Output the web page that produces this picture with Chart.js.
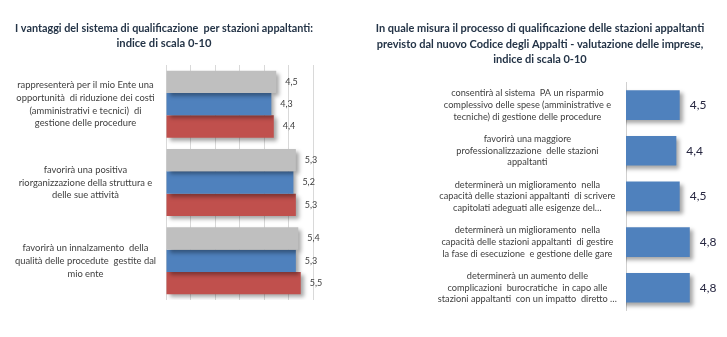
<!DOCTYPE html>
<html>
<head>
<meta charset="utf-8">
<script src="https://cdn.jsdelivr.net/npm/chart.js@4.4.0/dist/chart.umd.min.js"></script>
<style>
  body { margin: 0; background: #fff; }
  .box { position: absolute; top: 0; height: 337px; }
  #left-box { left: 0; width: 330px; }
  #right-box { left: 360px; width: 367px; }
</style>
</head>
<body>
<div class="box" id="left-box"><canvas id="left-chart" width="330" height="337"></canvas></div>
<div class="box" id="right-box"><canvas id="right-chart" width="367" height="337"></canvas></div>
<script>
// dati grafico sinistro
const leftTitle = [
  "I vantaggi del sistema di qualificazione  per stazioni appaltanti:",
  "indice di scala 0-10",
];
const leftCategories = [
  ["rappresenterà per il mio Ente una", "opportunità  di riduzione dei costi", "(amministrativi e tecnici)  di", "gestione delle procedure"],
  ["favorirà una positiva", "riorganizzazione della struttura e", "delle sue attività"],
  ["favorirà un innalzamento  della", "qualità delle procedute  gestite dal", "mio ente"],
];
const leftGray = [4.5, 5.3, 5.4];
const leftBlue = [4.3, 5.2, 5.3];
const leftRed = [4.4, 5.3, 5.5];

// dati grafico destro
const rightTitle = [
  "In quale misura il processo di qualificazione delle stazioni appaltanti",
  "previsto dal nuovo Codice degli Appalti - valutazione delle imprese,",
  "indice di scala 0-10",
];
const rightCategories = [
  ["consentirà al sistema  PA un risparmio", "complessivo delle spese (amministrative e", "tecniche) di gestione delle procedure"],
  ["favorirà una maggiore", "professionalizzazione  delle stazioni", "appaltanti"],
  ["determinerà un miglioramento  nella", "capacità delle stazioni appaltanti  di scrivere", "capitolati adeguati alle esigenze del…"],
  ["determinerà un miglioramento  nella", "capacità delle stazioni appaltanti  di gestire", "la fase di esecuzione  e gestione delle gare"],
  ["determinerà un aumento delle", "complicazioni  burocratiche  in capo alle", "stazioni appaltanti  con un impatto  diretto …"],
];
const rightValues = [4.5, 4.4, 4.5, 4.8, 4.8];

const FONT = "Lato, 'Open Sans', sans-serif";

// ombra sotto le barre
const shadowPlugin = {
  id: "shadow",
  beforeDatasetsDraw(chart) {
    const ctx = chart.ctx;
    ctx.save();
    ctx.shadowColor = "rgba(0,0,0,0.35)";
    ctx.shadowBlur = 4;
    ctx.shadowOffsetX = 3;
    ctx.shadowOffsetY = 3;
  },
  afterDatasetsDraw(chart) {
    chart.ctx.restore();
  },
};

// etichette dei valori
const valueLabels = (size, color, gap) => ({
  id: "valueLabels",
  afterDatasetsDraw(chart) {
    const ctx = chart.ctx;
    ctx.save();
    ctx.font = size + "px " + FONT;
    ctx.fillStyle = color;
    ctx.textBaseline = "middle";
    ctx.textAlign = "left";
    chart.data.datasets.forEach((ds, i) => {
      chart.getDatasetMeta(i).data.forEach((bar, j) => {
        const txt = ds.data[j].toLocaleString("it-IT", { minimumFractionDigits: 1 });
        ctx.fillText(txt, bar.x + gap, bar.y);
      });
    });
    ctx.restore();
  },
});

new Chart(document.getElementById("left-chart"), {
  type: "bar",
  data: {
    labels: leftCategories,
    datasets: [
      { label: "Serie 1", data: leftGray, backgroundColor: "#BFBFBF" },
      { label: "Serie 2", data: leftBlue, backgroundColor: "#4F81BD" },
      { label: "Serie 3", data: leftRed, backgroundColor: "#C0504D" },
    ],
  },
  options: {
    indexAxis: "y",
    responsive: false,
    animation: false,
    categoryPercentage: 0.855,
    barPercentage: 1,
    layout: { padding: { left: 15, right: 17, top: 0, bottom: 37 } },
    scales: {
      x: {
        min: 0,
        max: 6,
        ticks: { display: false, stepSize: 1 },
        grid: { color: "#D9D9D9", drawTicks: false },
        border: { display: false },
      },
      y: {
        afterFit(scale) { scale.width = 151; },
        grid: { display: false, drawTicks: false },
        border: { display: false },
        ticks: {
          crossAlign: "center",
          padding: 10,
          color: "#404040",
          font: { family: FONT, size: 9.4, lineHeight: 1.36 },
        },
      },
    },
    plugins: {
      legend: { display: false },
      tooltip: { enabled: false },
      title: {
        display: true,
        text: leftTitle,
        color: "#243447",
        font: { family: FONT, size: 11.2, weight: "bold", lineHeight: 1.34 },
        padding: { top: 21, bottom: 14 },
      },
    },
  },
  plugins: [shadowPlugin, valueLabels(9, "#404040", 9)],
});

new Chart(document.getElementById("right-chart"), {
  type: "bar",
  data: {
    labels: rightCategories,
    datasets: [
      { label: "Valutazione", data: rightValues, backgroundColor: "#4F81BD" },
    ],
  },
  options: {
    indexAxis: "y",
    responsive: false,
    animation: false,
    categoryPercentage: 1,
    barPercentage: 0.65,
    layout: { padding: { left: 0, right: 7, top: 0, bottom: 14 } },
    scales: {
      x: {
        min: 2.9,
        max: 5.7,
        ticks: { display: false },
        grid: { display: false, drawTicks: false },
        border: { display: false },
      },
      y: {
        afterFit(scale) { scale.width = 266; },
        grid: { display: false, drawTicks: false },
        border: { display: true, color: "#D0D0D0" },
        ticks: {
          crossAlign: "center",
          padding: 9,
          color: "#404040",
          font: { family: FONT, size: 9.2, lineHeight: 1.26 },
        },
      },
    },
    plugins: {
      legend: { display: false },
      tooltip: { enabled: false },
      title: {
        display: true,
        text: rightTitle,
        color: "#243447",
        font: { family: FONT, size: 11, weight: "bold", lineHeight: 1.4 },
        padding: { top: 21, bottom: 15 },
      },
    },
  },
  plugins: [shadowPlugin, valueLabels(12, "#262640", 10)],
});
</script>
</body>
</html>
